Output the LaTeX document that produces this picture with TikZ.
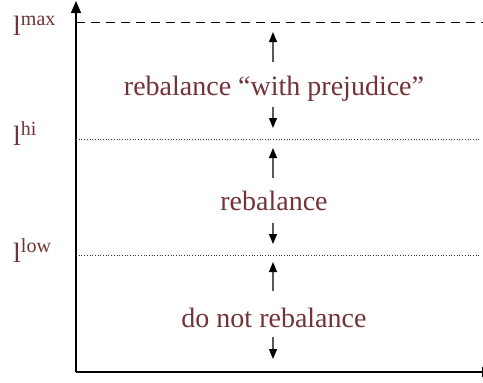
\documentclass[tikz,border=0pt]{standalone}
\usepackage{fontspec}
\setmainfont{Liberation Serif}
\usetikzlibrary{arrows.meta}
\definecolor{labelred}{RGB}{115,50,55}
\newcommand{\lev}[1]{l\raisebox{10pt}{\fontsize{20}{20}\selectfont #1}}
\begin{document}
\begin{tikzpicture}[x=1pt,y=-1pt,
  lbl/.style={text=labelred, font=\fontsize{28}{30}\selectfont, inner sep=0pt, anchor=base},
  axis/.style={line width=1.4pt, -{Triangle[width=10pt,length=12pt]}},
  move/.style={line width=1.2pt, draw=black!65, -{Triangle[width=8pt,length=10pt,color=black]}},
  limit/.style={line width=0.9pt, dash pattern=on 9pt off 6pt},
  band/.style={line width=0.7pt, dotted, draw=black!80}]
\useasboundingbox (0,0) rectangle (483,383);
\clip (0,0) rectangle (483,383);
% axes
\coordinate (o) at (76,372);
\coordinate (ytop) at (76,1);
\coordinate (xend) at (494,372);
\draw[axis] (o) -- (ytop);
\draw[axis] (o) -- (xend);
% level lines
\coordinate (maxL) at (76,22);  \coordinate (maxR) at (483,22);
\coordinate (hiL) at (76,139);  \coordinate (hiR) at (480,139);
\coordinate (lowL) at (76,255); \coordinate (lowR) at (480,255);
\draw[limit] (maxL) -- (maxR);
\draw[band] (hiL) -- (hiR);
\draw[band] (lowL) -- (lowR);
% level labels
\node[lbl, anchor=base west] (lmax) at (13,35) {\lev{max}};
\node[lbl, anchor=base west] (lhi) at (13,145) {\lev{hi}};
\node[lbl, anchor=base west] (llow) at (13,262) {\lev{low}};
% band descriptions
\node[lbl] (t1) at (274,95) {rebalance “with prejudice”};
\node[lbl] (t2) at (274,210) {rebalance};
\node[lbl] (t3) at (274,327) {do not rebalance};
% movement arrows in each band
\coordinate (a1s) at (273,62);  \coordinate (a1e) at (273,32);
\coordinate (b1s) at (273,107); \coordinate (b1e) at (273,128);
\coordinate (a2s) at (273,178); \coordinate (a2e) at (273,148);
\coordinate (b2s) at (273,223); \coordinate (b2e) at (273,244);
\coordinate (a3s) at (273,291); \coordinate (a3e) at (273,262);
\coordinate (b3s) at (273,337); \coordinate (b3e) at (273,359);
\draw[move] (a1s) -- (a1e);
\draw[move] (b1s) -- (b1e);
\draw[move] (a2s) -- (a2e);
\draw[move] (b2s) -- (b2e);
\draw[move] (a3s) -- (a3e);
\draw[move] (b3s) -- (b3e);
\end{tikzpicture}
\end{document}
